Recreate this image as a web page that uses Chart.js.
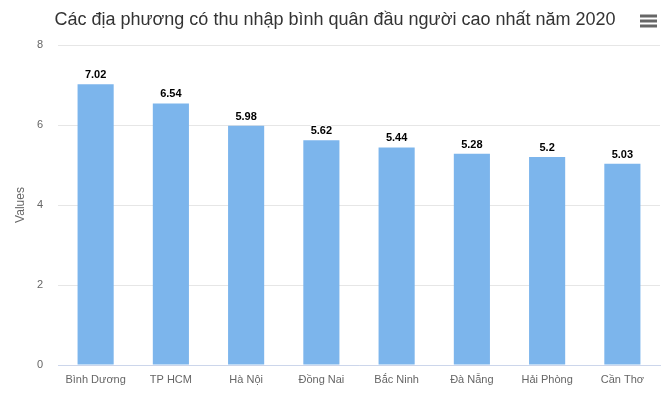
<!DOCTYPE html>
<html>
<head>
<meta charset="utf-8">
<script src="https://cdn.jsdelivr.net/npm/chart.js@4/dist/chart.umd.min.js"></script>
<style>
  body { margin: 0; background: #fff; }
  #wrap { position: relative; width: 670px; height: 400px; }
</style>
</head>
<body>
<div id="wrap"><canvas id="chart" width="670" height="400"></canvas></div>
<script>
const FONT = '"Liberation Sans", Arial, Helvetica, sans-serif';

const titleText = "Các địa phương có thu nhập bình quân đầu người cao nhất năm 2020";
const provinces = ["Bình Dương", "TP HCM", "Hà Nội", "Đồng Nai", "Bắc Ninh", "Đà Nẵng", "Hải Phòng", "Cần Thơ"];
const incomes = [7.02, 6.54, 5.98, 5.62, 5.44, 5.28, 5.2, 5.03];
const yTicks = [0, 2, 4, 6, 8];

// title, menu icon and value labels drawn by hand
const extras = {
  id: "extras",
  afterDatasetsDraw(chart) {
    const ctx = chart.ctx;
    ctx.save();
    // value labels
    ctx.font = "bold 11px " + FONT;
    ctx.textAlign = "center";
    ctx.textBaseline = "middle";
    chart.getDatasetMeta(0).data.forEach((bar, i) => {
      const txt = String(incomes[i]);
      const y = bar.y - 9;
      ctx.lineWidth = 2;
      ctx.strokeStyle = "#fff";
      ctx.lineJoin = "round";
      ctx.strokeText(txt, bar.x, y);
      ctx.fillStyle = "#000";
      ctx.fillText(txt, bar.x, y);
    });
    // title
    ctx.font = "18px " + FONT;
    ctx.fillStyle = "#333333";
    ctx.textBaseline = "alphabetic";
    ctx.fillText(titleText, 335, 24.5);
    // menu icon
    ctx.strokeStyle = "#666";
    ctx.lineWidth = 3;
    ctx.lineCap = "butt";
    [16, 21, 26].forEach(y => {
      ctx.beginPath();
      ctx.moveTo(640, y);
      ctx.lineTo(657, y);
      ctx.stroke();
    });
    ctx.restore();
  }
};

new Chart(document.getElementById("chart"), {
  type: "bar",
  data: {
    labels: provinces,
    datasets: [{
      data: incomes,
      backgroundColor: "#7cb5ec",
      borderWidth: 0,
      barPercentage: 0.48,
      categoryPercentage: 1
    }]
  },
  options: {
    responsive: false,
    animation: false,
    devicePixelRatio: 1,
    layout: { padding: { top: 45, right: 10, bottom: 0, left: 0 } },
    plugins: {
      legend: { display: false },
      tooltip: { enabled: false },
      title: { display: false }
    },
    scales: {
      x: {
        grid: { display: false },
        border: { color: "#ccd6eb", width: 1 },
        ticks: { color: "#666666", font: { family: FONT, size: 11 }, padding: 0, maxRotation: 0 },
        afterFit: s => { s.height = 35; }
      },
      y: {
        min: 0,
        max: 8,
        afterBuildTicks: s => { s.ticks = yTicks.map(v => ({ value: v })); },
        grid: { color: "#e6e6e6", drawTicks: false },
        border: { display: false },
        ticks: { color: "#666666", font: { family: FONT, size: 11 }, padding: 15 },
        title: {
          display: true,
          text: "Values",
          color: "#666666",
          font: { family: FONT, size: 12 },
          padding: { top: 13, bottom: 0 }
        },
        afterFit: s => { s.width = 58; }
      }
    }
  },
  plugins: [extras]
});
</script>
</body>
</html>
